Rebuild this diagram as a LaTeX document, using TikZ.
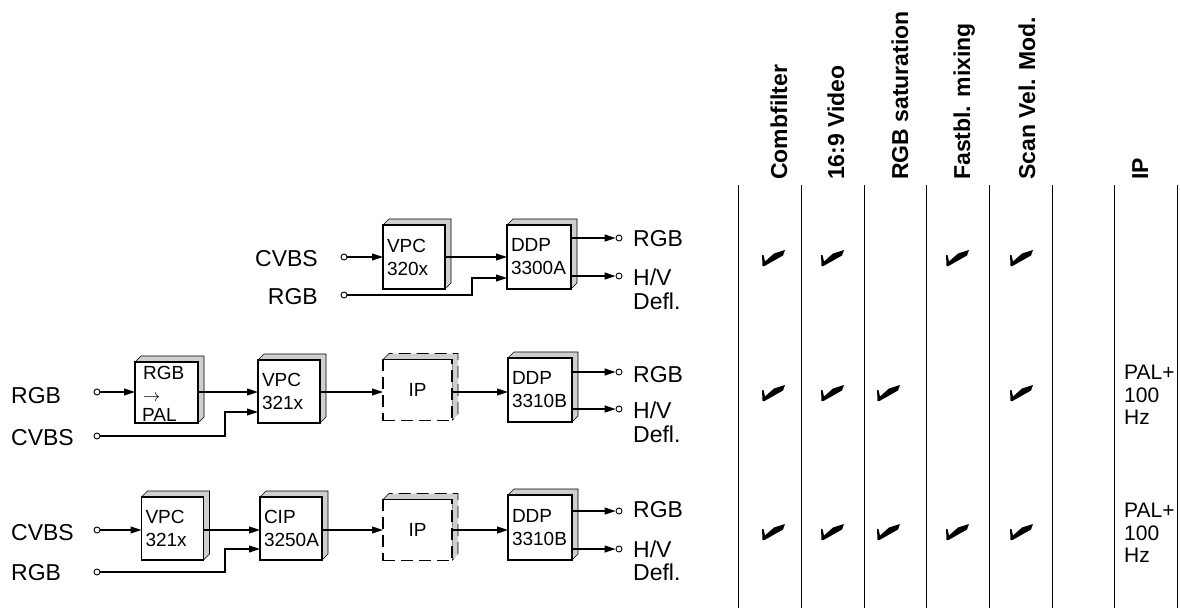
\documentclass[tikz,border=0pt]{standalone}
\usepackage{fontspec}
\setmainfont{Liberation Sans}
\usetikzlibrary{arrows.meta,calc,backgrounds}
\begin{document}
\begin{tikzpicture}[x=1pt,y=-1pt,
  lab/.style={font=\fontsize{23}{25}\selectfont, inner sep=0pt},
  intext/.style={font=\fontsize{19}{23}\selectfont, inner sep=0pt},
  blk/.style={draw, line width=1.2pt, fill=white, outer sep=0pt, inner xsep=4pt, inner ysep=0pt,
    align=left, font=\fontsize{19}{23}\selectfont},
  ipblk/.style={draw, dashed, dash pattern=on 12pt off 6pt, line width=1.2pt, fill=white, outer sep=0pt,
    inner sep=0pt, font=\fontsize{19}{23}\selectfont},
  term/.style={circle, draw, line width=0.9pt, fill=white, inner sep=0pt, minimum size=6pt},
  arr/.style={line width=1.1pt, -{Triangle[length=11pt,width=7pt]}},
  grid/.style={line width=0.9pt},
  hdr/.style={rotate=90, anchor=base west, inner sep=0pt, font=\bfseries\fontsize{23}{23}\selectfont},
  side/.style={anchor=north west, inner sep=0pt, align=left, font=\fontsize{21}{22.5}\selectfont},
  shadow/.style={fill=gray!38, draw=black, line width=0.6pt},
  chk/.pic={\fill (-11,-3) -- (-10.5,8) -- (-8.5,8) -- (10,-2.5) -- (12,-8) -- (1,-4.5) -- (-8,3.5) -- (-9.5,-3) -- cycle;}
]
\useasboundingbox (0,0) rectangle (1180,608);

% ---------- Row 1 ----------
\node[blk, minimum width=62pt, minimum height=64pt, text width=54pt] (v1) at (414,257) {VPC\\320x};
\node[blk, minimum width=64pt, minimum height=64pt, text width=56pt] (d1) at (539,257) {DDP\\3300A};
\node[term] (i1a) at (344,257) {};
\node[term] (i1b) at (344,295) {};
\node[lab, anchor=east] (l1a) at (318,259) {CVBS};
\node[lab, anchor=east] (l1b) at (318,297) {RGB};
\coordinate (k1) at (472,278);
\draw[arr] (i1a) -- (v1.west |- i1a);
\draw[arr] (v1.east |- i1a) -- (d1.west |- i1a);
\draw[arr] (i1b) -| (k1) -- (d1.west |- k1);
\node[term] (o1a) at (619,238) {};
\node[term] (o1b) at (619,276) {};
\draw[arr] (d1.east |- o1a) -- (o1a);
\draw[arr] (d1.east |- o1b) -- (o1b);
\node[lab, anchor=west] (r1a) at (633,239) {RGB};
\node[lab, anchor=west] (r1b) at (633,277) {H/V};
\node[lab, anchor=west] (r1c) at (633,301) {Defl.};

% ---------- Row 2 ----------
\node[blk, minimum width=63pt, minimum height=61pt] (rp) at (166.5,392.5) {};
\node[intext, anchor=west] (rpa) at (143,373) {RGB};
\node[intext, anchor=west] (rpb) at (143,398) {$\rightarrow$};
\node[intext, anchor=west] (rpc) at (142,415) {PAL};
\node[blk, minimum width=62pt, minimum height=63pt, text width=54pt] (v2) at (289,391.5) {VPC\\321x};
\node[ipblk, minimum width=69pt, minimum height=61pt] (ip2) at (417.5,390) {IP};
\node[blk, minimum width=64pt, minimum height=64pt, text width=56pt] (d2) at (540,390) {DDP\\3310B};
\node[term] (i2a) at (97,392) {};
\node[term] (i2b) at (97,436) {};
\node[lab, anchor=west] (l2a) at (11,396) {RGB};
\node[lab, anchor=west] (l2b) at (11,438) {CVBS};
\coordinate (k2) at (225,412);
\draw[arr] (i2a) -- (rp.west |- i2a);
\draw[arr] (rp.east |- i2a) -- (v2.west |- i2a);
\draw[arr] (i2b) -| (k2) -- (v2.west |- k2);
\draw[arr] (v2.east |- i2a) -- (ip2.west |- i2a);
\draw[arr] (ip2.east |- i2a) -- (d2.west |- i2a);
\node[term] (o2a) at (619,372) {};
\node[term] (o2b) at (619,409) {};
\draw[arr] (d2.east |- o2a) -- (o2a);
\draw[arr] (d2.east |- o2b) -- (o2b);
\node[lab, anchor=west] (r2a) at (633,375) {RGB};
\node[lab, anchor=west] (r2b) at (633,410) {H/V};
\node[lab, anchor=west] (r2c) at (633,434) {Defl.};

% ---------- Row 3 ----------
\node[blk, minimum width=62pt, minimum height=63pt, text width=54pt] (v3) at (172.5,528.5) {VPC\\321x};
\node[blk, minimum width=62pt, minimum height=63pt, text width=54pt] (c3) at (291,528.5) {CIP\\3250A};
\node[ipblk, minimum width=69pt, minimum height=61pt] (ip3) at (417.5,530) {IP};
\node[blk, minimum width=64pt, minimum height=65pt, text width=56pt] (d3) at (540,527.5) {DDP\\3310B};
\node[term] (i3a) at (97,530) {};
\node[term] (i3b) at (97,572) {};
\node[lab, anchor=west] (l3a) at (11,533) {CVBS};
\node[lab, anchor=west] (l3b) at (11,573) {RGB};
\coordinate (k3) at (225,549);
\draw[arr] (i3a) -- (v3.west |- i3a);
\draw[arr] (v3.east |- i3a) -- (c3.west |- i3a);
\draw[arr] (i3b) -| (k3) -- (c3.west |- k3);
\draw[arr] (c3.east |- i3a) -- (ip3.west |- i3a);
\draw[arr] (ip3.east |- i3a) -- (d3.west |- i3a);
\node[term] (o3a) at (619,511) {};
\node[term] (o3b) at (619,549) {};
\draw[arr] (d3.east |- o3a) -- (o3a);
\draw[arr] (d3.east |- o3b) -- (o3b);
\node[lab, anchor=west] (r3a) at (633,510) {RGB};
\node[lab, anchor=west] (r3b) at (633,549) {H/V};
\node[lab, anchor=west] (r3c) at (633,572) {Defl.};

% ---------- 3D shadows ----------
\begin{pgfonlayer}{background}
\foreach \n in {v1,d1,rp,v2,d2,v3,c3,d3} {
  \filldraw[shadow] (\n.north west) -- ++(6,-6) -- ($(\n.north east)+(6,-6)$)
     -- ($(\n.south east)+(6,-6)$) -- (\n.south east) -- (\n.north east) -- cycle;
}
\foreach \n in {ip2,ip3} {
  \filldraw[shadow, dashed, dash pattern=on 12pt off 6pt] (\n.north west) -- ++(6,-6) -- ($(\n.north east)+(6,-6)$)
     -- ($(\n.south east)+(6,-6)$) -- (\n.south east) -- (\n.north east) -- cycle;
}
\end{pgfonlayer}

% ---------- Table ----------
\foreach \x in {738,801,864,926,989,1052,1114,1177} {
  \draw[grid] (\x,185) -- (\x,608);
}
\node[hdr] (h1) at (787,180) {Combfilter};
\node[hdr] (h2) at (844,180) {16:9 Video};
\node[hdr] (h3) at (908,180) {RGB saturation};
\node[hdr] (h4) at (970,180) {Fastbl. mixing};
\node[hdr] (h5) at (1035,180) {Scan Vel. Mod.};
\node[hdr] (h6) at (1148,180) {IP};

\foreach \x in {773,832,957,1021} { \pic at (\x,258) {chk}; }
\foreach \x in {773,832,888,1021} { \pic at (\x,393) {chk}; }
\foreach \x in {773,832,888,957,1021} { \pic at (\x,532) {chk}; }

\node[side] (p2) at (1124,365) {PAL+\\100\\Hz};
\node[side] (p3) at (1124,503) {PAL+\\100\\Hz};
\end{tikzpicture}
\end{document}
